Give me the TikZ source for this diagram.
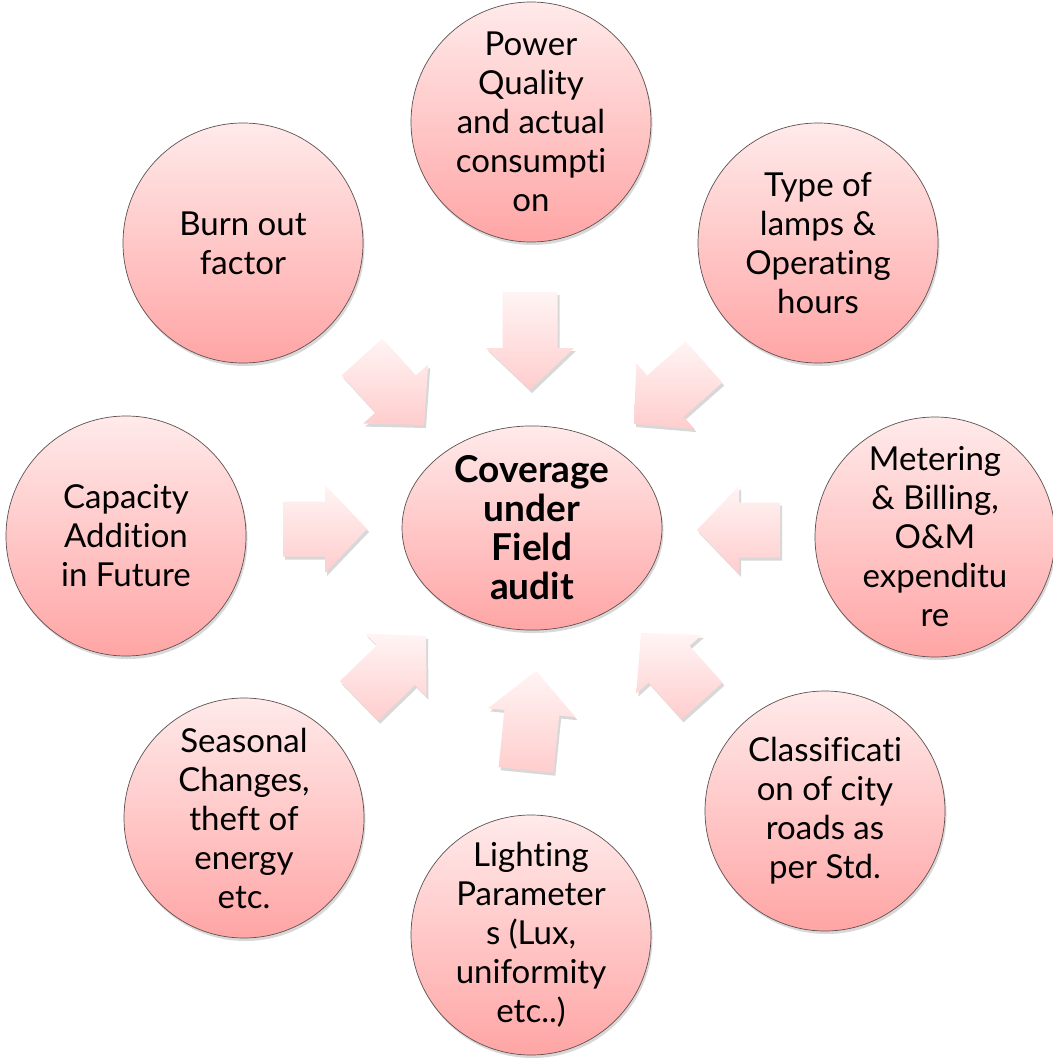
\documentclass[tikz,border=0pt]{standalone}
\usepackage{fontspec}
\setmainfont{Lato}[Ligatures={NoCommon,NoContextual}]
\usetikzlibrary{calc,shadows,shapes.geometric}
\definecolor{ctop}{RGB}{255,234,234}
\definecolor{cbot}{RGB}{255,165,165}
\definecolor{atop}{RGB}{255,244,244}
\definecolor{abot}{RGB}{255,205,205}
\definecolor{cline}{RGB}{95,80,80}
\newcommand\nolig{\kern0pt }
\tikzset{
  bubble/.style={circle, minimum size=240pt, inner sep=0pt, top color=ctop, bottom color=cbot,
    draw=cline, line width=0.7pt, align=center, font=\fontsize{33}{39}\selectfont, text=black,
    drop shadow={opacity=0.3, shadow xshift=1.5pt, shadow yshift=-3pt}},
  hub/.style={ellipse, minimum width=260pt, minimum height=190pt, inner sep=0pt, top color=ctop, bottom color=cbot,
    draw=cline, line width=0.7pt, align=center, font=\fontsize{37}{39}\selectfont\bfseries, text=black,
    drop shadow={opacity=0.3, shadow xshift=1.5pt, shadow yshift=-3pt}},
  barrow/.style={top color=atop, bottom color=abot,
    drop shadow={opacity=0.3, shadow xshift=2pt, shadow yshift=-3pt}}
}
\newcommand\blockarrow[3]{%
  \coordinate (#1-hb) at ($(#3)!42pt!(#2)$);
  \path[barrow] ($(#2)!27.5pt!90:(#3)$) -- ($(#1-hb)!27.5pt!-90:(#2)$) -- ($(#1-hb)!44pt!-90:(#2)$) -- (#3)
    -- ($(#1-hb)!44pt!90:(#2)$) -- ($(#1-hb)!27.5pt!90:(#2)$) -- ($(#2)!27.5pt!-90:(#3)$) -- cycle;}
\begin{document}
\begin{tikzpicture}[x=1pt,y=1pt]
\useasboundingbox[fill=white] (0,0) rectangle (1052,-1059);

% arrows
\coordinate (a1t) at (530,-292); \coordinate (a1p) at (530,-390);
\coordinate (a2t) at (362,-357); \coordinate (a2p) at (424,-425);
\coordinate (a3t) at (704,-362); \coordinate (a3p) at (634,-424);
\coordinate (a4t) at (283,-529); \coordinate (a4p) at (367,-529);
\coordinate (a5t) at (780,-530); \coordinate (a5p) at (697,-530);
\coordinate (a6t) at (359,-701); \coordinate (a6p) at (426,-636);
\coordinate (a7t) at (526,-770); \coordinate (a7p) at (536,-671);
\coordinate (a8t) at (702,-701); \coordinate (a8p) at (641,-633);
\blockarrow{a1}{a1t}{a1p}
\blockarrow{a2}{a2t}{a2p}
\blockarrow{a3}{a3t}{a3p}
\blockarrow{a4}{a4t}{a4p}
\blockarrow{a5}{a5t}{a5p}
\blockarrow{a6}{a6t}{a6p}
\blockarrow{a7}{a7t}{a7p}
\blockarrow{a8}{a8t}{a8p}

% circles
\node[bubble] (pq) at (531,-122) {Power\\Quality\\and actual\\consumpt\nolig i\\on};
\node[bubble] (bo) at (243,-243) {Burn out\\factor};
\node[bubble] (tl) at (818,-243) {Type of\\lamps \&\\Operat\nolig ing\\hours};
\node[bubble] (ca) at (126,-536) {Capacity\\Addit\nolig ion\\in Future};
\node[bubble] (mb) at (935,-537) {Metering\\\& Billing,\\O\&M\\expenditu\\re};
\node[bubble] (cl) at (825,-811) {Classificat\nolig i\\on of city\\roads as\\per Std.};
\node[bubble] (sc) at (244,-818) {Seasonal\\Changes,\\theft of\\energy\\etc.};
\node[bubble] (lp) at (531,-935) {Lighting\\Parameter\\s (Lux,\\uniformity\\etc..)};
\node[hub] (hub) at (532,-528) {Coverage\\under\\Field\\audit};
\end{tikzpicture}
\end{document}
